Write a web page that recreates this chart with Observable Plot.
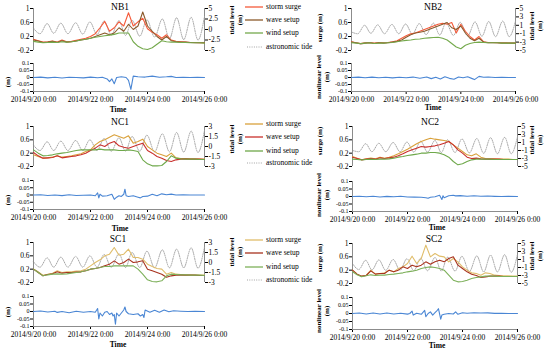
<!DOCTYPE html>
<html><head><meta charset="utf-8">
<script src="https://cdn.jsdelivr.net/npm/d3@7"></script>
<script src="https://cdn.jsdelivr.net/npm/@observablehq/plot@0.6"></script>
<style>
html,body{margin:0;padding:0;background:#fff;}
#root{position:relative;width:550px;height:353px;overflow:hidden;font-family:"Liberation Serif","Times New Roman",serif;}
.t{position:absolute;white-space:nowrap;transform:translate(-50%,-50%);line-height:1.15;color:#000;text-align:center;}
.r{transform:translate(-50%,-50%) rotate(-90deg);}
.lg{position:absolute;white-space:nowrap;font-size:7.5px;line-height:1;transform:translateY(-50%);color:#000;}
</style></head><body><div id="root"></div>
<script>
// ---------- data ----------
const HOURS = [0,4,8,12,16,20,24,28,32,36,40,44,48,52,56,60,64,68,72,76,80,84,88,92,96,100,104,108,112,116,120,124,128,132,136,140,144];
const TIDE_HOURS = [0,5.5,11.5,17,23,29,35.5,41.5,47.5,53.5,59.5,65.5,72,77.5,83,89.5,95.5,102,108.5,114.5,120.5,126.5,132.8,138.5,144];
const X_TICK_HOURS = [0,48,96,144];
const X_TICK_LABELS = ["2014/9/20 0:00","2014/9/22 0:00","2014/9/24 0:00","2014/9/26 0:00"];
const Y_TICKS_SURGE = [-0.2,0.2,0.6,1];
const Y_TICKS_NL = [-0.1,-0.05,0,0.05,0.1];
const TIDE_TICKS_NB1 = [-5,-2.5,0,2.5,5];
const TIDE_TICKS_3 = [-3,-1.5,0,1.5,3];
const TIDE_TICKS_5 = [-5,-3,-1,1,3,5];
const SERIES_NAMES = ["storm surge","wave setup","wind setup","astronomic tide"];

const NB1_SURGE = [0.12,0.08,0.04,0.05,0.07,0.04,0.1,0.05,0.06,0.09,0.12,0.15,0.2,0.28,0.45,0.63,0.35,0.45,0.62,0.5,0.88,0.5,0.62,0.72,0.42,0.32,0.25,0.15,0.25,0.1,0.06,0.05,0.04,0.03,0.03,0.02,0.02];
const NB1_WAVE  = [0.1,0.07,0.03,0.04,0.06,0.03,0.08,0.04,0.05,0.07,0.1,0.12,0.15,0.2,0.25,0.3,0.25,0.3,0.45,0.35,0.55,0.4,0.5,0.9,0.5,0.35,0.2,0.1,0.2,0.08,0.05,0.04,0.04,0.03,0.02,0.02,0.02];
const NB1_WIND  = [0.06,0.04,0.02,0.03,0.04,0.03,0.05,0.04,0.05,0.07,0.1,0.12,0.15,0.18,0.2,0.22,0.24,0.26,0.3,0.3,0.3,0.05,-0.08,-0.15,-0.17,-0.12,-0.02,0.08,0.05,0.04,0.04,0.03,0.03,0.02,0.02,0.02,0.01];
const NB1_TIDE  = [0.3,-1.0,1.4,-0.9,1.5,-1.0,1.6,-1.1,1.8,-1.2,2.0,-1.3,2.1,-1.4,2.2,-1.6,2.3,-1.8,2.5,-2.2,2.8,-2.4,2.9,-2.5,3.1];
const NB1_NL_H  = [0,6,12,18,24,30,36,42,48,54,58,62,64,66,68,70,74,78,80,82,84,88,94,100,106,112,116,120,126,132,138,144];
const NB1_NL    = [0,0.003,-0.003,0.002,-0.004,0.002,0,-0.003,0.003,-0.002,0.002,-0.01,-0.03,-0.01,-0.045,0,0.005,0,-0.02,-0.085,0.01,0.005,0.003,0.01,0.002,0.005,0.008,0,0.002,0,0.001,0];

const NB2_SURGE = [0.05,0.02,0.0,0.02,0.03,0.01,0.03,0.02,0.03,0.05,0.08,0.15,0.22,0.28,0.3,0.35,0.4,0.45,0.5,0.55,0.58,0.55,0.6,0.3,0.55,0.35,0.2,0.1,0.2,0.05,0.03,0.03,0.02,0.02,0.02,0.01,0.01];
const NB2_WAVE  = [0.04,0.02,-0.01,0.01,0.02,0.0,0.02,0.01,0.02,0.04,0.06,0.1,0.18,0.25,0.3,0.32,0.35,0.4,0.45,0.5,0.55,0.6,0.45,0.4,0.5,0.3,0.15,0.08,0.15,0.04,0.02,0.02,0.02,0.01,0.01,0.01,0.01];
const NB2_WIND  = [0.02,0.01,0.0,0.01,0.02,0.0,0.01,0.01,0.02,0.03,0.05,0.07,0.09,0.1,0.12,0.13,0.15,0.16,0.17,0.18,0.15,0.1,0.0,-0.1,-0.15,-0.05,0.0,0.03,0.04,0.03,0.02,0.02,0.02,0.01,0.01,0.01,0.01];
const NB2_TIDE  = [-0.6,-1.0,1.0,-0.9,1.1,-1.0,1.2,-1.0,1.3,-1.1,1.4,-1.2,1.5,-1.3,1.6,-1.4,1.7,-1.5,1.8,-1.6,1.9,-1.7,2.0,-1.7,2.0];
const NB2_NL_H  = [0,6,12,18,24,30,36,42,48,54,60,66,70,74,78,82,86,90,94,98,102,106,108,112,116,120,126,132,138,144];
const NB2_NL    = [0,0.003,-0.002,0.003,-0.002,0.002,-0.003,0.002,-0.002,0.003,-0.005,0.003,-0.008,0.002,-0.01,0.005,-0.006,-0.012,0.004,-0.002,0.005,-0.008,-0.015,0.008,0.002,0.004,0,0.002,0,0];

const NC1_SURGE = [0.15,0.1,0.05,0.06,0.08,0.12,0.08,0.1,0.12,0.15,0.18,0.25,0.3,0.45,0.55,0.6,0.68,0.75,0.7,0.65,0.72,0.5,0.55,0.62,0.4,0.3,0.2,0.15,0.1,0.2,0.06,0.04,0.04,0.03,0.03,0.02,0.02];
const NC1_WAVE  = [0.22,0.12,0.05,0.06,0.07,0.12,0.06,0.08,0.1,0.12,0.15,0.2,0.28,0.35,0.45,0.4,0.5,0.55,0.42,0.38,0.35,0.4,0.45,0.5,0.28,0.2,0.1,0.05,-0.02,-0.05,0.0,0.02,0.03,0.02,0.02,0.02,0.01];
const NC1_WIND  = [0.3,0.2,0.12,0.13,0.15,0.18,0.2,0.22,0.25,0.28,0.3,0.3,0.3,0.3,0.32,0.3,0.3,0.3,0.28,0.28,0.3,0.28,0.25,0.0,-0.12,-0.18,-0.18,-0.17,-0.05,0.12,0.05,0.03,0.02,0.02,0.02,0.01,0.01];
const NC1_TIDE  = [0.2,-0.6,0.7,-0.6,0.8,-0.6,0.9,-0.6,1.0,-0.6,1.2,-0.7,1.3,-0.7,1.5,-0.7,1.7,-0.8,1.9,-0.8,2.1,-0.85,2.3,-0.9,2.4];
const NC1_NL_H  = [0,6,12,18,24,30,36,42,48,52,54,55,56,58,62,66,68,70,72,74,76,77,78,80,84,88,90,92,96,100,104,108,112,116,120,126,132,138,144];
const NC1_NL    = [0,0.002,-0.003,0,-0.004,0.002,-0.003,-0.002,0,-0.005,0.015,-0.02,0.005,-0.008,-0.005,0.005,-0.03,-0.015,-0.005,-0.01,0.005,0.04,-0.005,-0.01,-0.005,-0.015,-0.02,-0.01,-0.008,0.005,-0.005,0.008,0.002,0.006,0,0.002,0,0,0];

const NC2_SURGE = [0.1,0.05,0.0,0.03,0.05,0.03,0.08,0.05,0.08,0.12,0.18,0.25,0.32,0.4,0.48,0.55,0.6,0.65,0.62,0.6,0.58,0.55,0.45,0.35,0.25,0.15,0.12,0.18,0.08,0.04,0.03,0.03,0.02,0.02,0.02,0.01,0.01];
const NC2_WAVE  = [0.08,0.04,0.0,0.02,0.04,0.02,0.06,0.04,0.06,0.08,0.12,0.18,0.25,0.3,0.35,0.4,0.38,0.4,0.42,0.45,0.5,0.55,0.45,0.3,0.2,0.08,0.04,0.05,0.03,0.02,0.02,0.02,0.02,0.01,0.01,0.01,0.01];
const NC2_WIND  = [0.02,0.01,0.0,0.01,0.02,0.01,0.02,0.02,0.03,0.05,0.08,0.1,0.13,0.15,0.17,0.2,0.2,0.22,0.22,0.2,0.15,0.08,-0.05,-0.15,-0.12,-0.05,0.0,0.02,0.02,0.02,0.02,0.01,0.01,0.01,0.01,0.01,0.01];
const NC2_TIDE  = [-1.0,-1.3,0.7,-1.3,0.8,-1.3,1.0,-1.3,1.1,-1.4,1.3,-1.4,1.5,-1.5,1.7,-1.5,1.9,-1.6,2.0,-1.7,2.2,-1.8,2.3,-1.8,2.4];
const NC2_NL_H  = [0,6,12,18,24,30,36,42,48,54,60,64,66,68,72,76,78,79,80,84,88,90,94,100,106,112,118,124,130,136,144];
const NC2_NL    = [0,0.002,-0.002,0.002,-0.003,0.001,-0.002,0.002,-0.003,-0.004,-0.005,-0.008,-0.012,-0.005,-0.002,0.008,-0.02,0.005,-0.008,0.005,0.008,0.004,0.006,0.002,0.005,0.002,0.003,0.001,0,0.001,0];

const SC1_SURGE = [0.2,0.12,0.02,0.05,0.08,0.15,0.1,0.12,0.12,0.14,0.15,0.2,0.3,0.4,0.48,0.6,0.65,0.85,0.62,0.65,0.8,0.55,0.55,0.5,0.35,0.28,0.22,0.2,0.05,0.1,0.05,0.04,0.03,0.03,0.02,0.02,0.02];
const SC1_WAVE  = [0.2,0.1,0.0,0.04,0.06,0.12,0.08,0.1,0.1,0.11,0.12,0.15,0.2,0.22,0.25,0.3,0.35,0.45,0.35,0.4,0.5,0.4,0.42,0.45,0.2,0.15,0.1,0.05,-0.04,0.0,0.02,0.03,0.02,0.02,0.02,0.01,0.01];
const SC1_WIND  = [0.2,0.1,0.0,0.03,0.05,0.06,0.05,0.06,0.08,0.1,0.12,0.15,0.2,0.22,0.25,0.28,0.28,0.3,0.3,0.3,0.3,0.3,0.2,0.05,-0.12,-0.17,-0.18,-0.15,0.0,0.05,0.04,0.03,0.03,0.02,0.02,0.02,0.01];
const SC1_TIDE  = [0.1,-0.7,0.7,-0.7,0.8,-0.7,0.9,-0.7,1.0,-0.7,1.2,-0.7,1.3,-0.75,1.5,-0.75,1.7,-0.8,1.9,-0.8,2.0,-0.8,2.2,-0.85,2.3];
const SC1_NL_H  = [0,6,12,18,20,24,30,36,42,48,52,54,55,56,58,60,62,64,66,67,68,69,70,72,74,76,77,78,80,84,88,90,92,93,94,98,102,106,110,114,118,124,130,136,144];
const SC1_NL    = [0,0.003,-0.003,0.002,-0.006,0,-0.008,0.002,-0.005,0,-0.005,0.02,-0.05,-0.01,-0.03,-0.005,0,-0.02,-0.01,-0.03,-0.02,-0.085,-0.01,-0.03,-0.01,0.01,0.03,0.0,-0.015,-0.02,-0.015,-0.03,-0.02,-0.04,0.01,-0.005,0.008,-0.005,0.01,-0.002,0.005,0.002,0,0.001,0];

const SC2_SURGE = [0.2,0.08,0.02,0.05,0.2,0.08,0.1,0.12,0.2,0.15,0.25,0.3,0.4,0.62,0.4,0.55,0.95,0.6,0.7,0.62,0.6,0.45,0.55,0.45,0.3,0.2,0.12,0.1,0.05,0.12,0.1,0.05,0.04,0.03,0.03,0.02,0.02];
const SC2_WAVE  = [0.2,0.08,0.02,0.04,0.18,0.08,0.1,0.1,0.2,0.15,0.2,0.3,0.25,0.35,0.3,0.35,0.45,0.38,0.45,0.5,0.45,0.55,0.6,0.35,0.25,0.15,0.08,0.04,-0.02,0.0,0.02,0.02,0.02,0.01,0.01,0.01,0.01];
const SC2_WIND  = [0.15,0.06,0.0,0.03,0.06,0.04,0.05,0.05,0.07,0.08,0.1,0.12,0.15,0.17,0.2,0.25,0.28,0.3,0.28,0.25,0.2,0.05,-0.1,-0.15,-0.14,-0.1,-0.05,-0.02,0.0,0.02,0.02,0.02,0.01,0.01,0.01,0.01,0.01];
const SC2_TIDE  = [0.0,-1.5,0.8,-1.6,0.9,-1.7,1.0,-1.7,1.2,-1.8,1.3,-1.8,1.5,-1.9,1.6,-1.9,1.8,-2.0,1.9,-2.1,2.1,-2.1,2.2,-2.2,2.3];
const SC2_NL_H  = [0,6,12,18,24,30,36,42,48,50,52,53,56,60,63,64,66,68,70,72,74,75,77,78,80,84,88,90,92,96,100,106,112,118,124,130,136,144];
const SC2_NL    = [0,0.003,-0.003,0.003,-0.003,0.003,-0.003,0.002,-0.004,0.0,0.015,-0.01,0.002,-0.005,0.02,-0.02,0.0,0.01,-0.01,0.005,0.02,0.03,-0.035,-0.01,-0.005,0.0,-0.003,0.01,-0.005,0.005,0.002,0.005,0.003,0.004,0.001,0.002,0,0];

// ---------- styles ----------
const COL_NB = {surge:"#F55A3A", wave:"#8B5A2B", wind:"#74A94C"};
const COL_NC = {surge:"#D9A13B", wave:"#C9302C", wind:"#6EA84A"};
const COL_SC = {surge:"#E0BD6A", wave:"#A8321E", wind:"#7DB05A"};
const TIDE_COLOR = "#a3a3a3", NL_COLOR = "#4A86D4", AXIS = "#8c8c8c";
const FONT = '"Liberation Serif","Times New Roman",serif';
const STYLE = {background:"transparent", fontFamily:FONT, fontSize:"7.5px", overflow:"visible", color:"#000"};
const STYLE_NL = {background:"transparent", fontFamily:FONT, fontSize:"6px", overflow:"visible", color:"#000"};
const fmt = d => String(d);
const XMIN = HOURS[0], XMAX = HOURS[HOURS.length-1];

const PANELS = [
  {name:"NB1", surge:NB1_SURGE, wave:NB1_WAVE, wind:NB1_WIND, tide:NB1_TIDE, tideTicks:TIDE_TICKS_NB1, nlH:NB1_NL_H, nl:NB1_NL, col:COL_NB,
   top:[33,204,8,50], bot:[33,204,63,91], title:[120,7], time:[118,110], tidal:[236,20], side:"left", mlab:[8,82], legend:[7,20,33,47]},
  {name:"NB2", surge:NB2_SURGE, wave:NB2_WAVE, wind:NB2_WIND, tide:NB2_TIDE, tideTicks:TIDE_TICKS_5, nlH:NB2_NL_H, nl:NB2_NL, col:COL_NB,
   top:[351,515,8,50], bot:[351,515,63,91], title:[433,7], time:[433,108], tidal:[536,26], side:"right", surgeLab:[320,28], nlLab:[323,77]},
  {name:"NC1", surge:NC1_SURGE, wave:NC1_WAVE, wind:NC1_WIND, tide:NC1_TIDE, tideTicks:TIDE_TICKS_3, nlH:NC1_NL_H, nl:NC1_NL, col:COL_NC,
   top:[33,204,126,166], bot:[33,204,180,209], title:[120,122], time:[120,229], tidal:[236,139], side:"left", mlab:[8,200], legend:[124,137,151,163]},
  {name:"NC2", surge:NC2_SURGE, wave:NC2_WAVE, wind:NC2_WIND, tide:NC2_TIDE, tideTicks:TIDE_TICKS_5, nlH:NC2_NL_H, nl:NC2_NL, col:COL_NC,
   top:[352,517,126,166], bot:[352,517,181,211], title:[430,122], time:[437,228], tidal:[536,140], side:"right", surgeLab:[320,141], nlLab:[323,195]},
  {name:"SC1", surge:SC1_SURGE, wave:SC1_WAVE, wind:SC1_WIND, tide:SC1_TIDE, tideTicks:TIDE_TICKS_3, nlH:SC1_NL_H, nl:SC1_NL, col:COL_SC,
   top:[33,204,242,282], bot:[33,204,296,326], title:[118,239], time:[118,345], tidal:[236,252], side:"left", mlab:[8,312], legend:[240,253,267,280]},
  {name:"SC2", surge:SC2_SURGE, wave:SC2_WAVE, wind:SC2_WIND, tide:SC2_TIDE, tideTicks:TIDE_TICKS_5, nlH:SC2_NL_H, nl:SC2_NL, col:COL_SC,
   top:[352,517,243,283], bot:[352,517,297,329], title:[434,239], time:[437,346], tidal:[536,256], side:"right", surgeLab:[320,258], nlLab:[323,311]}
];

// ---------- helpers ----------
const root = document.getElementById("root");
function put(node, left, top){ node.style.position="absolute"; node.style.left=left+"px"; node.style.top=top+"px"; root.appendChild(node); }
function text(str, x, y, size, bold, rot){
  const d=document.createElement("div"); d.className="t"+(rot?" r":""); d.innerHTML=str;
  d.style.left=x+"px"; d.style.top=y+"px"; d.style.fontSize=size+"px"; if(bold) d.style.fontWeight="bold";
  root.appendChild(d);
}
const ML=34, MR=34, MT=6, MB=6, MBB=18;

function drawPanel(P){
  let [x0,x1,y0,y1] = P.top;
  const W = x1-x0+ML+MR, H = y1-y0+MT+MB;
  const tideRows = TIDE_HOURS.map((h,i)=>({h, v:P.tide[i]}));
  const tsvg = Plot.plot({width:W, height:H, marginLeft:ML, marginRight:MR, marginTop:MT, marginBottom:MB, style:STYLE,
    x:{domain:[XMIN,XMAX], axis:null},
    y:{domain:[P.tideTicks[0], P.tideTicks[P.tideTicks.length-1]], axis:"right", ticks:P.tideTicks, tickFormat:fmt, tickSize:3, tickPadding:1, label:null},
    marks:[
      Plot.ruleX([XMAX], {stroke:AXIS}),
      Plot.line(tideRows, {x:"h", y:"v", curve:"monotone-x", stroke:TIDE_COLOR, strokeWidth:1, strokeDasharray:"1,1.3"})
    ]});
  put(tsvg, x0-ML, y0-MT);

  const rows = HOURS.map((h,i)=>({h, s:P.surge[i], w:P.wave[i], d:P.wind[i]}));
  const ssvg = Plot.plot({width:W, height:H, marginLeft:ML, marginRight:MR, marginTop:MT, marginBottom:MB, style:STYLE,
    x:{domain:[XMIN,XMAX], axis:null},
    y:{domain:[Y_TICKS_SURGE[0], Y_TICKS_SURGE[Y_TICKS_SURGE.length-1]], ticks:Y_TICKS_SURGE, tickFormat:fmt, tickSize:3, tickPadding:1, label:null},
    marks:[
      Plot.ruleX([XMIN], {stroke:AXIS}),
      Plot.line(rows, {x:"h", y:"s", stroke:P.col.surge, strokeWidth:1.1}),
      Plot.line(rows, {x:"h", y:"w", stroke:P.col.wave, strokeWidth:1.1}),
      Plot.line(rows, {x:"h", y:"d", stroke:P.col.wind, strokeWidth:1.1})
    ]});
  put(ssvg, x0-ML, y0-MT);

  [x0,x1,y0,y1] = P.bot;
  const W2 = x1-x0+ML+MR, H2 = y1-y0+MT+MBB;
  const nlRows = P.nlH.map((h,i)=>({h, v:P.nl[i]}));
  const bsvg = Plot.plot({width:W2, height:H2, marginLeft:ML, marginRight:MR, marginTop:MT, marginBottom:MBB, style:STYLE_NL,
    x:{domain:[XMIN,XMAX], axis:null},
    y:{domain:[Y_TICKS_NL[0], Y_TICKS_NL[Y_TICKS_NL.length-1]], ticks:Y_TICKS_NL, tickFormat:fmt, tickSize:3, tickPadding:1, label:null},
    marks:[
      Plot.axisX({ticks:X_TICK_HOURS, tickFormat:h=>X_TICK_LABELS[X_TICK_HOURS.indexOf(h)], tickSize:3, tickPadding:2, label:null, fontSize:7.5}),
      Plot.ruleX([XMIN], {stroke:AXIS}),
      Plot.ruleY([Y_TICKS_NL[0]], {stroke:AXIS}),
      Plot.line(nlRows, {x:"h", y:"v", stroke:NL_COLOR, strokeWidth:1.1})
    ]});
  put(bsvg, x0-ML, y0-MT);

  text(P.name, P.title[0], P.title[1], 9.5, false, false);
  text("Time", P.time[0], P.time[1], 7.5, true, false);
  text("tidal level<br>(m)", P.tidal[0], P.tidal[1], 7, true, true);
  if (P.side === "left") {
    text("(m)", P.mlab[0], P.mlab[1], 7, true, true);
    const items = [["surge", false],["wave", false],["wind", false],["tide", true]];
    items.forEach(([k,dotted],i)=>{
      const y = P.legend[i];
      const s = document.createElementNS("http://www.w3.org/2000/svg","svg");
      s.setAttribute("width","20"); s.setAttribute("height","4");
      const ln = document.createElementNS("http://www.w3.org/2000/svg","line");
      ln.setAttribute("x1", dotted ? "2" : "0"); ln.setAttribute("x2","18"); ln.setAttribute("y1","2"); ln.setAttribute("y2","2");
      ln.setAttribute("stroke", dotted ? TIDE_COLOR : P.col[k]); ln.setAttribute("stroke-width", dotted ? "1" : "1.3");
      if (dotted) ln.setAttribute("stroke-dasharray","1,1.3");
      s.appendChild(ln); put(s, 245, y-2);
      const t = document.createElement("div"); t.className="lg"; t.textContent=SERIES_NAMES[i];
      t.style.left="266px"; t.style.top=y+"px"; root.appendChild(t);
    });
  } else {
    text("surge (m)", P.surgeLab[0], P.surgeLab[1], 7, true, true);
    text("nonlinear level<br>(m)", P.nlLab[0], P.nlLab[1], 7, true, true);
  }
}
PANELS.forEach(drawPanel);
</script></body></html>
